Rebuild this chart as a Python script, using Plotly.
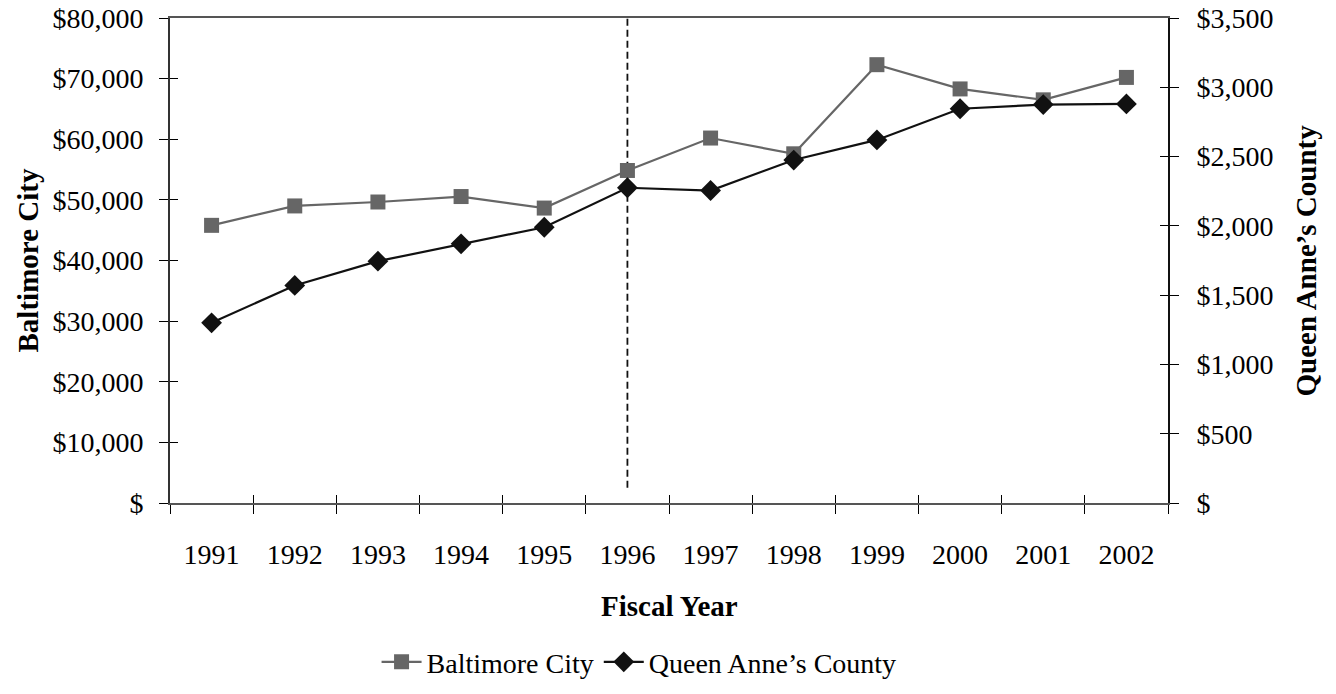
import plotly.graph_objects as go

# Fiscal years on the category axis
years = ["1991", "1992", "1993", "1994", "1995", "1996",
         "1997", "1998", "1999", "2000", "2001", "2002"]

# Baltimore City (left axis, dollars)
baltimore_city = [45800, 49000, 49650, 50550, 48650, 54850,
                  60200, 57600, 72300, 68300, 66500, 70200]

# Queen Anne's County (right axis, dollars)
queen_annes = [1300, 1570, 1745, 1870, 1990, 2275,
               2255, 2475, 2620, 2845, 2875, 2880]

left_ticks = [0, 10000, 20000, 30000, 40000, 50000, 60000, 70000, 80000]
left_labels = ["$", "$10,000", "$20,000", "$30,000", "$40,000",
               "$50,000", "$60,000", "$70,000", "$80,000"]
right_ticks = [0, 500, 1000, 1500, 2000, 2500, 3000, 3500]
right_labels = ["$", "$500", "$1,000", "$1,500", "$2,000",
                "$2,500", "$3,000", "$3,500"]

# dashed marker year and the span it covers on the left axis
marker_year = "1996"
marker_span = [2500, 80000]

FONT = "Liberation Serif, Times New Roman, serif"
GRAY = "#666666"
BLACK = "#111111"
TICK_SIZE = 28
TITLE_SIZE = 29

fig = go.Figure()

# dashed reference line at the 1996 fiscal year
fig.add_trace(go.Scatter(
    x=[marker_year, marker_year], y=marker_span, yaxis="y",
    mode="lines", line=dict(color=BLACK, width=1.8, dash="7px,4px"),
    showlegend=False, hoverinfo="skip",
))

fig.add_trace(go.Scatter(
    x=years, y=baltimore_city, name="Baltimore City",
    mode="lines+markers", yaxis="y",
    line=dict(color=GRAY, width=2.2),
    marker=dict(symbol="square", size=15, color=GRAY),
))
fig.add_trace(go.Scatter(
    x=years, y=queen_annes, name="Queen Anne\u2019s County",
    mode="lines+markers", yaxis="y2",
    line=dict(color=BLACK, width=2.2),
    marker=dict(symbol="diamond", size=16, color=BLACK),
))

tick_font = dict(family=FONT, size=TICK_SIZE, color="#000")
title_font = dict(family=FONT, size=TITLE_SIZE, color="#000")

fig.update_layout(
    width=1336, height=694,
    margin=dict(l=170, r=168, t=18, b=191, autoexpand=False),
    paper_bgcolor="white", plot_bgcolor="white",
    font=dict(family=FONT, size=TICK_SIZE, color="#000"),
    showlegend=True,
    legend=dict(orientation="h", x=0.47, xanchor="center",
                y=-0.328, yanchor="middle",
                font=dict(family=FONT, size=TICK_SIZE, color="#000"),
                itemwidth=40, tracegroupgap=0),
    xaxis=dict(
        type="category", categoryorder="array", categoryarray=years,
        range=[-0.5, 11.5], tickson="boundaries", automargin=False,
        ticks="outside", ticklen=9, tickcolor="#000", tickwidth=1,
        showline=True, linecolor="#555", linewidth=2, mirror=True,
        showgrid=False, zeroline=False, tickfont=tick_font,
        ticklabelstandoff=25,
    ),
    xaxis2=dict(
        overlaying="x", anchor="y", side="bottom", automargin=False,
        range=[-0.5, 11.5], tick0=-0.5, dtick=1,
        ticks="inside", ticklen=8, tickcolor="#000", tickwidth=1,
        showticklabels=False, showline=False, showgrid=False,
        zeroline=False,
    ),
    yaxis=dict(
        range=[0, 80000], tickvals=left_ticks, ticktext=left_labels,
        automargin=False,
        ticks="outside", ticklen=9, tickcolor="#000", tickwidth=1,
        showline=True, linecolor="#333", linewidth=2,
        showgrid=False, zeroline=False, tickfont=tick_font,
        ticklabelstandoff=10,
    ),
    yaxis2=dict(
        overlaying="y", side="right", anchor="x", automargin=False,
        range=[0, 3500], tickvals=right_ticks, ticktext=right_labels,
        ticks="outside", ticklen=9, tickcolor="#000", tickwidth=1,
        showline=True, linecolor="#111", linewidth=2,
        showgrid=False, zeroline=False, tickfont=tick_font,
        ticklabelstandoff=12,
    ),
    yaxis3=dict(
        overlaying="y", side="left", anchor="x", automargin=False,
        range=[0, 80000], tickvals=left_ticks,
        ticks="inside", ticklen=8, tickcolor="#000", tickwidth=1,
        showticklabels=False, showline=False, showgrid=False,
        zeroline=False,
    ),
    yaxis4=dict(
        overlaying="y", side="right", anchor="x", automargin=False,
        range=[0, 3500], tickvals=right_ticks,
        ticks="inside", ticklen=8, tickcolor="#000", tickwidth=1,
        showticklabels=False, showline=False, showgrid=False,
        zeroline=False,
    ),
    annotations=[
        dict(text="<b>Baltimore City</b>", xref="paper", yref="paper",
             x=-0.1423, y=0.5, textangle=-90, showarrow=False,
             font=title_font, xanchor="center", yanchor="middle"),
        dict(text="<b>Queen Anne\u2019s County</b>", xref="paper", yref="paper",
             x=1.1373, y=0.5, textangle=-90, showarrow=False,
             font=title_font, xanchor="center", yanchor="middle"),
        dict(text="<b>Fiscal Year</b>", xref="paper", yref="paper",
             x=0.5, y=-0.2124, showarrow=False,
             font=title_font, xanchor="center", yanchor="middle"),
    ],
)

# invisible traces so the overlay tick axes are drawn
fig.add_trace(go.Scatter(x=[-0.5, 11.5], y=[0, 0], xaxis="x2", yaxis="y3",
                         mode="markers", marker=dict(opacity=0),
                         showlegend=False, hoverinfo="skip"))
fig.add_trace(go.Scatter(x=[-0.5, 11.5], y=[0, 0], xaxis="x2", yaxis="y4",
                         mode="markers", marker=dict(opacity=0),
                         showlegend=False, hoverinfo="skip"))

fig.write_html("out.html")
